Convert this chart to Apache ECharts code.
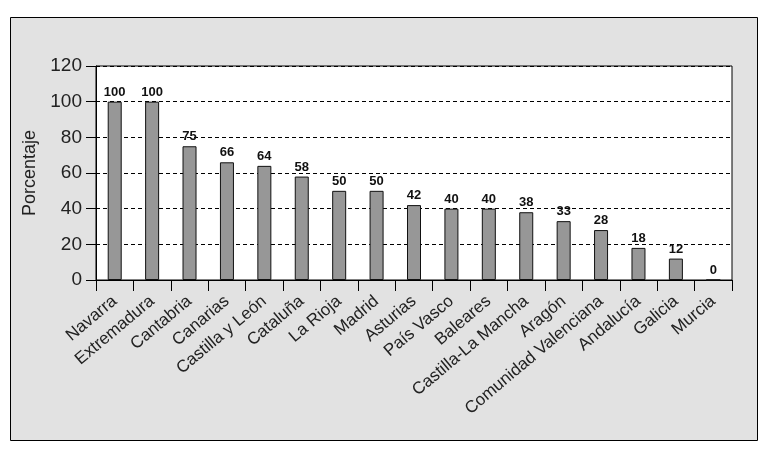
<!DOCTYPE html>
<html>
<head>
<meta charset="utf-8">
<script src="https://cdn.jsdelivr.net/npm/echarts@6/dist/echarts.min.js"></script>
<style>
  html, body { margin: 0; padding: 0; background: #fff; }
  #main { width: 768px; height: 450px; }
</style>
</head>
<body>
<div id="main"></div>
<script>
// datos
const regiones = ['Navarra', 'Extremadura', 'Cantabria', 'Canarias', 'Castilla y León', 'Cataluña',
  'La Rioja', 'Madrid', 'Asturias', 'País Vasco', 'Baleares', 'Castilla-La Mancha', 'Aragón',
  'Comunidad Valenciana', 'Andalucía', 'Galicia', 'Murcia'];
const porcentajes = [100, 100, 75, 66, 64, 58, 50, 50, 42, 40, 40, 38, 33, 28, 18, 12, 0];

var chartDom = document.getElementById('main');
var myChart = echarts.init(chartDom);
var option;
option = {
  animation: false,
  textStyle: { fontFamily: 'Liberation Sans, Arial, sans-serif' },
  graphic: [
    {
      type: 'rect',
      z: -10,
      shape: { x: 10.5, y: 17.5, width: 747, height: 423 },
      style: { fill: '#e2e2e2', stroke: '#000', lineWidth: 1 }
    }
  ],
  grid: {
    left: 96,
    right: 36,
    top: 66,
    bottom: 170,
    show: true,
    backgroundColor: '#fff',
    borderColor: '#000',
    borderWidth: 1
  },
  xAxis: {
    type: 'category',
    data: regiones,
    axisLine: { lineStyle: { color: '#000', width: 1 } },
    axisTick: { show: true, length: 11, lineStyle: { color: '#000' } },
    axisLabel: {
      interval: 0,
      rotate: 40,
      fontSize: 17,
      color: '#222',
      margin: 19
    }
  },
  yAxis: {
    type: 'value',
    min: 0,
    max: 120,
    interval: 20,
    name: 'Porcentaje',
    nameLocation: 'middle',
    nameGap: 46,
    nameTextStyle: { fontSize: 18, color: '#222' },
    axisLine: { show: true, lineStyle: { color: '#000', width: 1 } },
    axisTick: { show: true, length: 10, lineStyle: { color: '#000' } },
    axisLabel: { fontSize: 19, color: '#222', margin: 14 },
    splitLine: { lineStyle: { color: '#000', type: [4, 3], width: 1 } }
  },
  series: [
    {
      name: 'Porcentaje',
      type: 'bar',
      data: porcentajes,
      barWidth: 14,
      itemStyle: { color: '#979797', borderColor: '#111', borderWidth: 1 },
      label: {
        show: true,
        position: 'top',
        distance: 3,
        fontSize: 13,
        fontWeight: 'bold',
        color: '#111'
      }
    }
  ]
};
option && myChart.setOption(option);
</script>
</body>
</html>
